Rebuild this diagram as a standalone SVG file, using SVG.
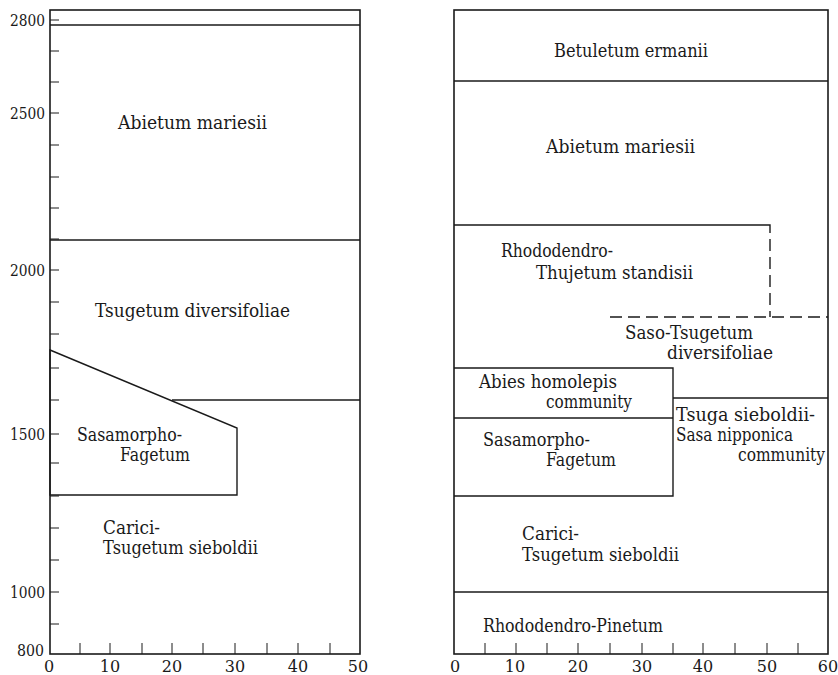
<svg xmlns="http://www.w3.org/2000/svg" width="838" height="675" viewBox="0 0 838 675">
<style>
.fr{fill:none;stroke:#1a1a1a;stroke-width:1.6}
.ln{fill:none;stroke:#1a1a1a;stroke-width:1.4}
.dash{fill:none;stroke:#1a1a1a;stroke-width:1.4;stroke-dasharray:12 6}
.tk{fill:none;stroke:#1a1a1a;stroke-width:1}
text{font-family:'DejaVu Serif','Liberation Serif',serif;fill:#1a1a1a}
.lb{font-size:18px}
.axm{font-size:16px;text-anchor:middle}
.axe{font-size:16px;text-anchor:end}
</style>
<rect width="838" height="675" fill="#ffffff"/>

<!-- LEFT PANEL -->
<g id="left-axes">
  <rect class="fr" x="50" y="10" width="310" height="644"/>
  <path class="tk" d="M50 20H59M50 51H59M50 82H59M50 113H59M50 145H59M50 177H59M50 208H59M50 239H59M50 270H59M50 302H59M50 334H59M50 368H59M50 400H59M50 434H59M50 463H59M50 496H59M50 528H59M50 560H59M50 592H59M50 624H59"/>
  <path class="tk" d="M80 643V654M110 643V654M142 643V654M172 643V654M203 643V654M235 643V654M267 643V654M298 643V654M330 643V654"/>
  <text class="axe" x="45" y="26" textLength="35" lengthAdjust="spacingAndGlyphs">2800</text>
  <text class="axe" x="45" y="119" textLength="35" lengthAdjust="spacingAndGlyphs">2500</text>
  <text class="axe" x="45" y="276" textLength="35" lengthAdjust="spacingAndGlyphs">2000</text>
  <text class="axe" x="45" y="440" textLength="35" lengthAdjust="spacingAndGlyphs">1500</text>
  <text class="axe" x="45" y="598" textLength="35" lengthAdjust="spacingAndGlyphs">1000</text>
  <text class="axe" x="44" y="656" textLength="27" lengthAdjust="spacingAndGlyphs">800</text>
  <text class="axm" x="49" y="672">0</text>
  <text class="axm" x="110" y="672">10</text>
  <text class="axm" x="172" y="672">20</text>
  <text class="axm" x="235" y="672">30</text>
  <text class="axm" x="298" y="672">40</text>
  <text class="axm" x="358" y="672">50</text>
</g>
<g id="connectors">
  <path class="ln" d="M50 25H360"/>
  <path class="ln" d="M50 240H360"/>
  <path class="ln" d="M172 400H360"/>
  <path class="ln" d="M454 81H828"/>
  <path class="ln" d="M454 225H770V233"/>
  <path class="dash" d="M770 239V317"/>
  <path class="dash" d="M610 317H828"/>
  <path class="ln" d="M454 368H673V496H454"/>
  <path class="ln" d="M454 418H673"/>
  <path class="ln" d="M673 398H828"/>
  <path class="ln" d="M454 592H828"/>
</g>
<g id="l-abietum">
  <text class="lb" x="118" y="129" textLength="149" lengthAdjust="spacingAndGlyphs">Abietum mariesii</text>
</g>
<g id="l-tsugetum">
  <text class="lb" x="95" y="317" textLength="195" lengthAdjust="spacingAndGlyphs">Tsugetum diversifoliae</text>
</g>
<g id="l-sasamorpho">
  <polygon class="ln" points="50,350 237,428 237,495 50,495"/>
  <text class="lb" x="77" y="441" textLength="105" lengthAdjust="spacingAndGlyphs">Sasamorpho-</text>
  <text class="lb" x="120" y="461" textLength="70" lengthAdjust="spacingAndGlyphs">Fagetum</text>
</g>
<g id="l-carici">
  <text class="lb" x="103" y="534" textLength="57" lengthAdjust="spacingAndGlyphs">Carici-</text>
  <text class="lb" x="103" y="554" textLength="155" lengthAdjust="spacingAndGlyphs">Tsugetum sieboldii</text>
</g>

<!-- RIGHT PANEL -->
<g id="right-axes">
  <rect class="fr" x="454" y="10" width="374" height="644"/>
  <path class="tk" d="M485 643V654M516 643V654M547 643V654M578 643V654M610 643V654M642 643V654M673 643V654M703 643V654M735 643V654M767 643V654M798 643V654"/>
  <text class="axm" x="455" y="672">0</text>
  <text class="axm" x="515" y="672">10</text>
  <text class="axm" x="578" y="672">20</text>
  <text class="axm" x="642" y="672">30</text>
  <text class="axm" x="703" y="672">40</text>
  <text class="axm" x="767" y="672">50</text>
  <text class="axm" x="828" y="672">60</text>
</g>
<g id="r-betuletum">
  <text class="lb" x="554" y="57" textLength="154" lengthAdjust="spacingAndGlyphs">Betuletum ermanii</text>
</g>
<g id="r-abietum">
  <text class="lb" x="546" y="153" textLength="149" lengthAdjust="spacingAndGlyphs">Abietum mariesii</text>
</g>
<g id="r-rhodo-thujetum">
  <text class="lb" x="501" y="257" textLength="112" lengthAdjust="spacingAndGlyphs">Rhododendro-</text>
  <text class="lb" x="536" y="279" textLength="157" lengthAdjust="spacingAndGlyphs">Thujetum standisii</text>
</g>
<g id="r-saso-tsugetum">
  <text class="lb" x="625" y="339" textLength="128" lengthAdjust="spacingAndGlyphs">Saso-Tsugetum</text>
  <text class="lb" x="667" y="359" textLength="106" lengthAdjust="spacingAndGlyphs">diversifoliae</text>
</g>
<g id="r-abies">
  <text class="lb" x="479" y="388" textLength="138" lengthAdjust="spacingAndGlyphs">Abies homolepis</text>
  <text class="lb" x="546" y="408" textLength="86" lengthAdjust="spacingAndGlyphs">community</text>
</g>
<g id="r-sasamorpho">
  <text class="lb" x="483" y="446" textLength="107" lengthAdjust="spacingAndGlyphs">Sasamorpho-</text>
  <text class="lb" x="546" y="466" textLength="70" lengthAdjust="spacingAndGlyphs">Fagetum</text>
</g>
<g id="r-tsuga-sasa">
  <text class="lb" x="676" y="421" textLength="139" lengthAdjust="spacingAndGlyphs">Tsuga sieboldii-</text>
  <text class="lb" x="676" y="441" textLength="117" lengthAdjust="spacingAndGlyphs">Sasa nipponica</text>
  <text class="lb" x="738" y="461" textLength="87" lengthAdjust="spacingAndGlyphs">community</text>
</g>
<g id="r-carici">
  <text class="lb" x="522" y="540" textLength="57" lengthAdjust="spacingAndGlyphs">Carici-</text>
  <text class="lb" x="522" y="561" textLength="157" lengthAdjust="spacingAndGlyphs">Tsugetum sieboldii</text>
</g>
<g id="r-pinetum">
  <text class="lb" x="483" y="632" textLength="180" lengthAdjust="spacingAndGlyphs">Rhododendro-Pinetum</text>
</g>
</svg>
